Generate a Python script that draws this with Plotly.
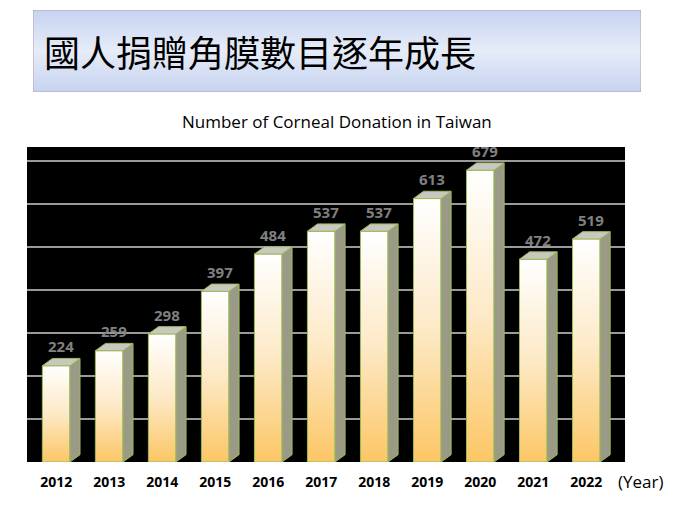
import plotly.graph_objects as go

years = ["2012","2013","2014","2015","2016","2017","2018","2019","2020","2021","2022"]
values = [224, 259, 298, 397, 484, 537, 537, 613, 679, 472, 519]
title_text = "國人捐贈角膜數目逐年成長"
subtitle = "Number of Corneal Donation in Taiwan"

OFF = 8
W, H = 675 - OFF, 506 - OFF
def px(x): return (x - OFF) / W
def py(y): return 1 - (y - OFF) / H

fig = go.Figure()

hw = 0.26
dx, dy = 0.19, 17

for i, v in enumerate(values):
    x0, x1 = i - hw, i + hw
    fig.add_trace(go.Scatter(x=[x0, x1, x1, x0, x0], y=[0, 0, v, v, 0], mode="lines",
        fill="toself", line=dict(color="#9bbb59", width=1),
        fillgradient=dict(type="vertical", colorscale=[[0, "#fcc665"], [0.5, "#fde9c6"], [1, "#ffffff"]]),
        hoverinfo="skip", showlegend=False))
    fig.add_trace(go.Scatter(x=[x1, x1 + dx, x1 + dx, x1, x1], y=[0, dy, v + dy, v, 0], mode="lines",
        fill="toself", line=dict(color="#9bbb59", width=1), fillcolor="#9a9a86",
        hoverinfo="skip", showlegend=False))
    fig.add_trace(go.Scatter(x=[x0, x1, x1 + dx, x0 + dx, x0], y=[v, v, v + dy, v + dy, v], mode="lines",
        fill="toself", line=dict(color="#9bbb59", width=1), fillcolor="#c8c8c0",
        hoverinfo="skip", showlegend=False))
    fig.add_annotation(x=i + dx / 2, y=v + dy, text=f"<b>{v}</b>", showarrow=False, yanchor="bottom",
                       font=dict(family="Open Sans", size=15, color="#808080"))

fig.add_trace(go.Scatter(x=[0, 1, 1, 0, 0], y=[0, 0, 1, 1, 0], xaxis="x2", yaxis="y2", mode="lines",
    fill="toself", line=dict(color="#c0a0b0", width=1),
    fillgradient=dict(type="vertical", colorscale=[[0, "#c6d3f0"], [0.5, "#e6ecf8"], [1, "#c6d3f0"]]),
    hoverinfo="skip", showlegend=False))

fig.update_layout(
    width=W, height=H, margin=dict(l=0, r=0, t=0, b=0),
    paper_bgcolor="white", plot_bgcolor="black", showlegend=False,
    xaxis=dict(domain=[px(27), px(625)], range=[-0.55, 10.73], tickmode="array",
               tickvals=list(range(len(years))), ticktext=[f"<b>{y}</b>" for y in years],
               tickfont=dict(family="Open Sans", size=14, color="black"), showgrid=False,
               zeroline=False, ticks="", ticklabelstandoff=10),
    yaxis=dict(domain=[py(462), py(147)], range=[0, 733], dtick=100, showgrid=True,
               gridcolor="#9a9a9a", gridwidth=1.5, showticklabels=False, zeroline=False, ticks=""),
    xaxis2=dict(domain=[px(33), px(641)], range=[0, 1], visible=False, anchor="y2"),
    yaxis2=dict(domain=[py(92), py(10)], range=[0, 1], visible=False, anchor="x2"),
)
fig.add_annotation(xref="paper", yref="paper", x=px(42), y=py(51), xanchor="left", yanchor="middle",
                   text=title_text, showarrow=False,
                   font=dict(family="Noto Sans CJK TC", size=36, color="black"))
fig.add_annotation(xref="paper", yref="paper", x=px(337), y=py(122), xanchor="center", yanchor="middle",
                   text=subtitle, showarrow=False, font=dict(family="Open Sans", size=17, color="black"))
fig.add_annotation(xref="paper", yref="paper", x=px(640), y=py(481), xanchor="center", yanchor="middle",
                   text="(Year)", showarrow=False, font=dict(family="Open Sans", size=17, color="black"))

fig.write_html("out.html")
